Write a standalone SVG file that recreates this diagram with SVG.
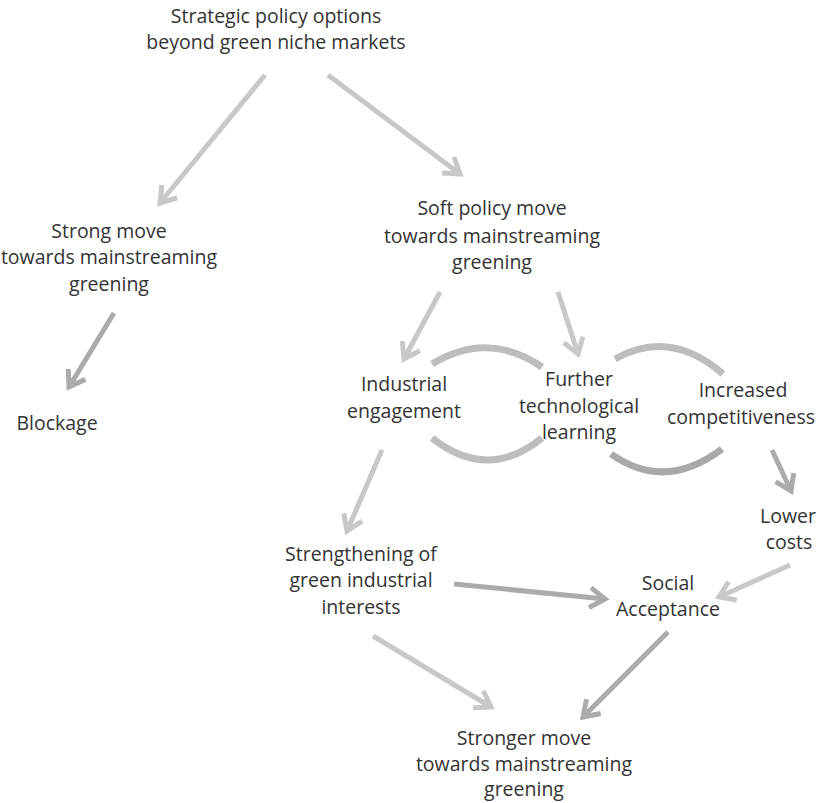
<svg xmlns="http://www.w3.org/2000/svg" width="816" height="803" viewBox="0 0 816 803">
<style>
text{font-family:"Open Sans","Liberation Sans",sans-serif;font-size:19.5px;fill:#333;text-anchor:middle}
.l{fill:none;stroke:#c8c8c8;stroke-width:5;stroke-linecap:butt}
.d{fill:none;stroke:#ababab;stroke-width:5}
.arc{fill:none;stroke:#bdbdbd;stroke-width:7;stroke-linecap:butt}
.arcd{fill:none;stroke:#a9a9a9;stroke-width:7}
</style>
<defs>
<marker id="ml" markerUnits="userSpaceOnUse" markerWidth="30" markerHeight="30" viewBox="-20 -15 24 30" refX="0" refY="0" orient="auto"><path d="M-15 -10 L0 0 L-15 10" fill="none" stroke="#c8c8c8" stroke-width="5" stroke-linejoin="miter"/></marker>
<marker id="md" markerUnits="userSpaceOnUse" markerWidth="30" markerHeight="30" viewBox="-20 -15 24 30" refX="0" refY="0" orient="auto"><path d="M-15 -10 L0 0 L-15 10" fill="none" stroke="#ababab" stroke-width="5" stroke-linejoin="miter"/></marker>
</defs>
<g id="connectors">
<line class="l" x1="265" y1="75" x2="160" y2="203" marker-end="url(#ml)"/>
<line class="l" x1="328" y1="75" x2="460" y2="174" marker-end="url(#ml)"/>
<line class="d" x1="114" y1="313" x2="69" y2="387" marker-end="url(#md)"/>
<line class="l" x1="440" y1="292" x2="404" y2="359" marker-end="url(#ml)"/>
<line class="l" x1="558" y1="292" x2="578" y2="354" marker-end="url(#ml)"/>
<line class="d" x1="772" y1="450" x2="791" y2="491" marker-end="url(#md)"/>
<line class="l" x1="382" y1="450" x2="347" y2="531" marker-end="url(#ml)"/>
<line class="d" x1="454" y1="584" x2="605" y2="599" marker-end="url(#md)"/>
<line class="l" x1="790" y1="565" x2="719" y2="597" marker-end="url(#ml)"/>
<line class="l" x1="373" y1="636" x2="491" y2="707" marker-end="url(#ml)"/>
<line class="d" x1="668" y1="632" x2="583" y2="717" marker-end="url(#md)"/>
<path class="arc" d="M432 364 Q488 330 542 367"/>
<path class="arc" d="M432 438 Q488 482 542 438"/>
<path class="arc" d="M615 359 Q670 328 723 374"/>
<path class="arcd" d="M611 454 Q665 492 722 449"/>
</g>
<g id="n-strategic"><text x="276" y="23">Strategic policy options</text><text x="276" y="49">beyond green niche markets</text></g>
<g id="n-strong"><text x="109" y="238">Strong move</text><text x="109" y="264">towards mainstreaming</text><text x="109" y="291">greening</text></g>
<g id="n-blockage"><text x="57" y="430">Blockage</text></g>
<g id="n-soft"><text x="492" y="215">Soft policy move</text><text x="492" y="243">towards mainstreaming</text><text x="492" y="269">greening</text></g>
<g id="n-industrial"><text x="404" y="391">Industrial</text><text x="404" y="418">engagement</text></g>
<g id="n-further"><text x="579" y="386">Further</text><text x="579" y="413">technological</text><text x="579" y="439">learning</text></g>
<g id="n-increased"><text x="743" y="397">Increased</text><text x="741" y="424">competitiveness</text></g>
<g id="n-lower"><text x="788" y="523">Lower</text><text x="789" y="549">costs</text></g>
<g id="n-strengthening"><text x="361" y="561">Strengthening of</text><text x="361" y="587">green industrial</text><text x="361" y="614">interests</text></g>
<g id="n-social"><text x="668" y="590">Social</text><text x="668" y="616">Acceptance</text></g>
<g id="n-stronger"><text x="524" y="745">Stronger move</text><text x="524" y="771">towards mainstreaming</text><text x="524" y="796">greening</text></g>
</svg>
